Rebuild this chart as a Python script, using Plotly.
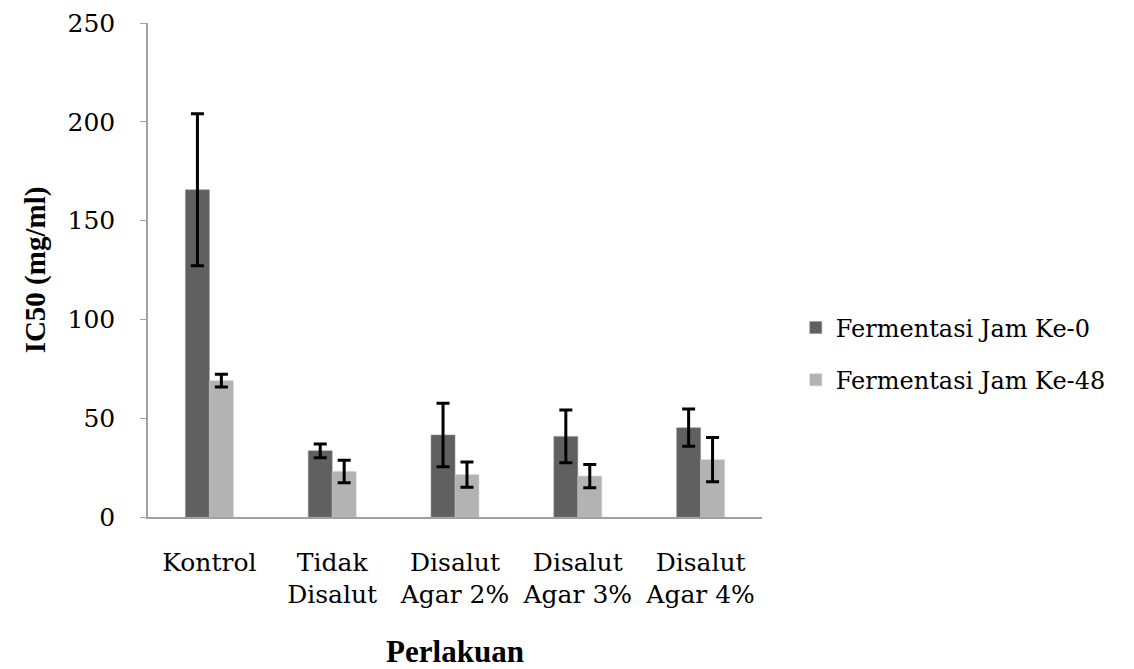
import plotly.graph_objects as go

categories = ["Kontrol", "Tidak<br>Disalut", "Disalut<br>Agar 2%", "Disalut<br>Agar 3%", "Disalut<br>Agar 4%"]
series_names = ["Fermentasi Jam Ke-0", "Fermentasi Jam Ke-48"]
jam0 = [165.6, 33.5, 41.5, 40.8, 45.2]
jam0_err = [38.5, 3.5, 16.1, 13.3, 9.4]
jam48 = [69.0, 23.0, 21.4, 20.7, 29.0]
jam48_err = [3.2, 5.7, 6.4, 5.9, 11.2]
y_ticks = [0, 50, 100, 150, 200, 250]

FONT = "'Liberation Serif', 'Times New Roman', serif"
FONT_REG = "'DejaVu Serif', serif"

fig = go.Figure()
fig.add_trace(go.Bar(
    x=categories, y=jam0, name=series_names[0], legendgroup="a",
    marker=dict(color="#606060", line=dict(color="#8a8a8a", width=0.5)),
    error_y=dict(type="data", array=jam0_err, color="black", thickness=3, width=6.5),
))
fig.add_trace(go.Bar(
    x=categories, y=jam48, name=series_names[1], legendgroup="b",
    marker=dict(color="#b3b3b3", line=dict(color="#c8c8c8", width=0.5)),
    error_y=dict(type="data", array=jam48_err, color="black", thickness=3, width=6.5),
))

fig.update_layout(
    width=1126, height=661,
    margin=dict(l=140, r=372, t=15, b=152, autoexpand=False),
    paper_bgcolor="white", plot_bgcolor="white",
    barmode="group", bargap=0.61, bargroupgap=0,
    font=dict(family=FONT_REG, size=25, color="black"),
    legend=dict(x=1.055, y=0.33, xanchor="left", yanchor="middle",
                traceorder="grouped", tracegroupgap=18,
                font=dict(family=FONT_REG, size=24)),
    xaxis=dict(
        automargin=False,
        showline=True, linecolor="#a0a0a0", linewidth=1.5,
        ticks="", ticklabelstandoff=22,
        tickfont=dict(family=FONT_REG, size=25),
        title=dict(text="<b>Perlakuan</b>", font=dict(family=FONT, size=31), standoff=45),
    ),
    yaxis=dict(
        automargin=False,
        range=[0, 250], tickvals=y_ticks, showgrid=False, zeroline=False,
        showline=True, linecolor="#a0a0a0", linewidth=1.5,
        ticks="outside", ticklen=6, tickcolor="#a0a0a0",
        ticklabelstandoff=20, ticklabeloverflow="allow",
        tickfont=dict(family=FONT_REG, size=25),
        title=dict(text="<b>IC50 (mg/ml)</b>", font=dict(family=FONT, size=29), standoff=13),
    ),
)

fig.write_html("out.html")
